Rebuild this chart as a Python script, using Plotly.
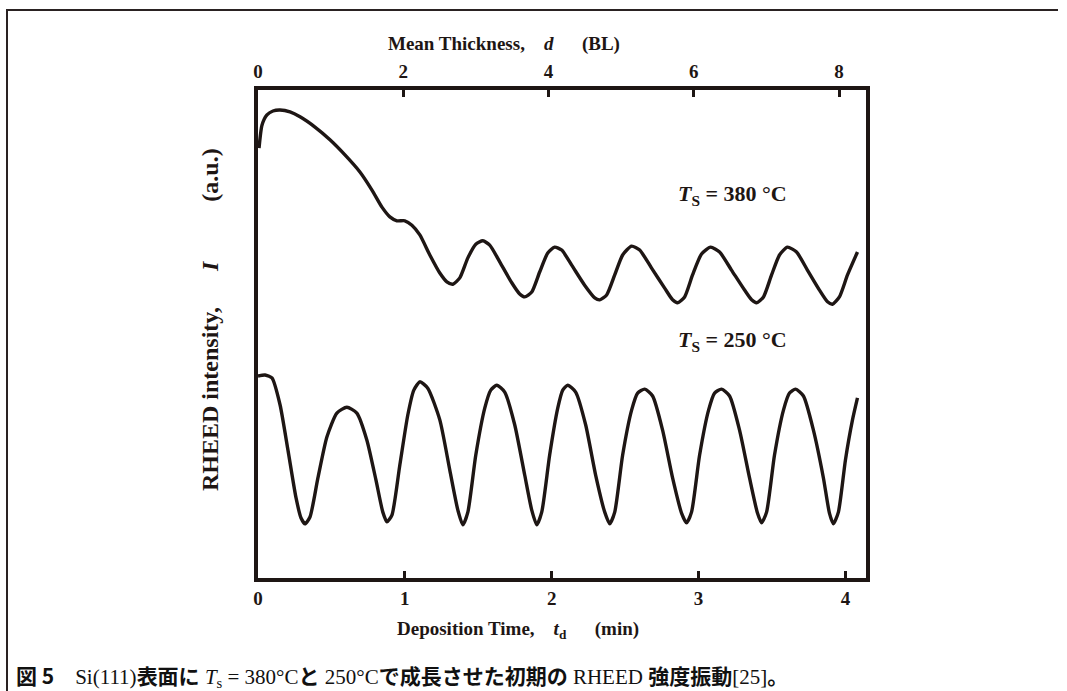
import plotly.graph_objects as go

# Deposition time (min) and RHEED intensity (a.u.) for Ts = 380 °C
t_380 = [0.007, 0.027, 0.061, 0.102, 0.150, 0.218, 0.286, 0.388, 0.490, 0.592,
         0.694, 0.776, 0.844, 0.898, 0.946, 1.000, 1.048, 1.102, 1.170, 1.238,
         1.286, 1.327, 1.374, 1.429, 1.483, 1.531, 1.578, 1.646, 1.728, 1.782,
         1.816, 1.864, 1.918, 1.973, 2.020, 2.068, 2.136, 2.224, 2.293, 2.327,
         2.374, 2.429, 2.483, 2.544, 2.599, 2.680, 2.769, 2.823, 2.857, 2.905,
         2.959, 3.020, 3.082, 3.143, 3.224, 3.313, 3.361, 3.395, 3.442, 3.497,
         3.551, 3.605, 3.667, 3.741, 3.823, 3.878, 3.912, 3.959, 4.014, 4.082]
i_380 = [88.1, 92.8, 94.9, 95.7, 95.9, 95.5, 94.5, 92.4, 89.8, 86.7,
         83.2, 79.5, 76.0, 74.0, 73.2, 73.2, 72.3, 70.3, 66.2, 62.5,
         60.7, 60.2, 61.5, 65.6, 68.4, 69.1, 68.2, 64.8, 60.5, 58.2,
         57.6, 58.6, 62.7, 66.6, 67.8, 67.2, 64.1, 60.0, 57.4, 57.0,
         58.0, 62.1, 66.2, 68.0, 67.2, 63.5, 59.4, 57.0, 56.4, 57.6,
         62.1, 66.4, 67.8, 66.8, 63.1, 59.0, 57.0, 56.4, 57.6, 62.1,
         66.2, 67.8, 66.8, 63.1, 59.0, 56.6, 56.1, 57.6, 62.1, 66.8]

# Deposition time (min) and RHEED intensity (a.u.) for Ts = 250 °C
t_250 = [0.000, 0.048, 0.095, 0.150, 0.204, 0.259, 0.293, 0.320, 0.354, 0.408,
         0.469, 0.537, 0.605, 0.673, 0.741, 0.803, 0.850, 0.878, 0.912, 0.966,
         1.020, 1.061, 1.102, 1.156, 1.238, 1.306, 1.361, 1.395, 1.429, 1.483,
         1.544, 1.585, 1.626, 1.680, 1.748, 1.816, 1.864, 1.898, 1.932, 1.986,
         2.041, 2.075, 2.109, 2.163, 2.231, 2.299, 2.361, 2.395, 2.429, 2.483,
         2.544, 2.585, 2.633, 2.687, 2.755, 2.823, 2.884, 2.918, 2.952, 3.007,
         3.068, 3.109, 3.156, 3.211, 3.279, 3.347, 3.401, 3.429, 3.463, 3.517,
         3.578, 3.619, 3.660, 3.714, 3.782, 3.850, 3.891, 3.918, 3.952, 4.000,
         4.048, 4.082]
i_250 = [41.4, 41.6, 41.0, 35.5, 26.2, 16.4, 12.3, 11.1, 12.5, 20.5,
         28.9, 33.8, 35.0, 33.8, 28.3, 20.1, 13.5, 11.5, 12.9, 23.2,
         33.4, 38.5, 40.2, 38.9, 32.4, 22.1, 13.9, 10.9, 13.5, 25.2,
         34.8, 38.5, 39.5, 38.1, 31.4, 21.1, 13.9, 10.9, 13.5, 25.2,
         34.8, 38.5, 39.5, 38.1, 31.4, 21.1, 13.5, 11.1, 13.5, 25.2,
         34.4, 37.9, 38.7, 37.3, 30.3, 20.5, 13.3, 11.3, 13.5, 25.2,
         34.4, 37.9, 38.7, 37.3, 30.3, 20.5, 13.3, 11.3, 13.5, 25.2,
         34.4, 37.9, 38.7, 37.3, 30.3, 20.5, 13.3, 11.1, 13.5, 24.2,
         32.4, 36.9]

time_ticks = [0, 1, 2, 3, 4]
thick_ticks = [0, 2, 4, 6, 8]
time_range = [0, 4.14]
thick_range = [0, 8.37]      # mean thickness (BL) over the same time span
intensity_range = [0, 100]

W, H = 1067, 691
L, R, T, B = 258, 201, 90, 113
PW, PH = W - L - R, H - T - B

INK = "#1e1614"
SERIF = "Liberation Serif, Times New Roman, serif"
CJK = "Noto Sans CJK JP"


def px_x(px):
    """Pixel column -> plot-area paper x."""
    return (px - L) / PW


def px_y(py):
    """Pixel row -> plot-area paper y."""
    return (H - B - py) / PH


fig = go.Figure()
for t, i in ((t_380, i_380), (t_250, i_250)):
    fig.add_trace(go.Scatter(
        x=t, y=i, mode="lines",
        line=dict(color=INK, width=3.4, shape="spline", smoothing=0.6),
        hoverinfo="skip", showlegend=False,
    ))

axis_common = dict(
    showgrid=False, zeroline=False, showline=True, linecolor=INK, linewidth=4,
    ticks="inside", ticklen=7, tickwidth=3, tickcolor=INK,
    tickfont=dict(family=SERIF, size=19, color=INK, weight="bold"),
)

fig.update_layout(
    width=W, height=H,
    margin=dict(l=L, r=R, t=T, b=B),
    paper_bgcolor="white", plot_bgcolor="white",
    xaxis=dict(range=time_range, tickvals=time_ticks, **axis_common),
    xaxis2=dict(range=thick_range, tickvals=thick_ticks, overlaying="x",
                side="top", **axis_common),
    yaxis=dict(range=intensity_range, showticklabels=False, showgrid=False,
               zeroline=False, showline=True, linecolor=INK, linewidth=4,
               mirror=True, ticks=""),
)

# empty trace bound to the top thickness axis so that it is drawn
fig.add_trace(go.Scatter(x=[thick_range[0]], y=[None], xaxis="x2",
                         showlegend=False, hoverinfo="skip"))

sp = "&#160;"
title_font = dict(family=SERIF, size=19, color=INK, weight="bold")
fig.add_annotation(
    text=f"Mean Thickness,{sp*4}<i>d</i>{sp*6}(BL)",
    xref="paper", yref="paper", x=px_x(504), y=px_y(44),
    xanchor="center", yanchor="middle", showarrow=False, font=title_font)
fig.add_annotation(
    text=f"Deposition Time,{sp*4}<i>t</i><sub>d</sub>{sp*6}(min)",
    xref="paper", yref="paper", x=px_x(518), y=px_y(630),
    xanchor="center", yanchor="middle", showarrow=False, font=title_font)
fig.add_annotation(
    text=f"RHEED intensity,{sp*6}<i>I</i>{sp*10}(a.u.)",
    xref="paper", yref="paper", x=px_x(210), y=px_y(320), textangle=-90,
    xanchor="center", yanchor="middle", showarrow=False,
    font=dict(family=SERIF, size=24, color=INK, weight="bold"))

label_font = dict(family=SERIF, size=22, color=INK, weight="bold")
for label, yv in (("380", 78.5), ("250", 48.5)):
    fig.add_annotation(
        text=f"<i>T</i><sub>S</sub> = {label} °C",
        x=3.23, y=yv, showarrow=False, font=label_font)


def cjk(s):
    return f"<span style='font-family:{CJK};font-weight:bold'>{s}</span>"


# figure caption
caption = (cjk("図 5") + sp * 4 + "Si(111)" + cjk("表面に") + " "
           + "<i>T</i><sub>s</sub> = 380°C" + cjk("と") + " 250°C"
           + cjk("で成長させた初期の") + " RHEED " + cjk("強度振動")
           + "[25]" + cjk("。"))
fig.add_annotation(
    text=caption, xref="paper", yref="paper", x=px_x(14), y=px_y(675),
    xanchor="left", yanchor="middle", showarrow=False,
    font=dict(family=SERIF + ", " + CJK, size=21, color="#111111"))

# outer frame of the figure panel
frame = dict(color="#2a2222", width=2)
fig.add_shape(type="line", xref="paper", yref="paper",
              x0=px_x(6), x1=px_x(1058), y0=px_y(10), y1=px_y(10), line=frame)
fig.add_shape(type="line", xref="paper", yref="paper",
              x0=px_x(7), x1=px_x(7), y0=px_y(9), y1=px_y(H + 2), line=frame)

fig.write_html("out.html")
